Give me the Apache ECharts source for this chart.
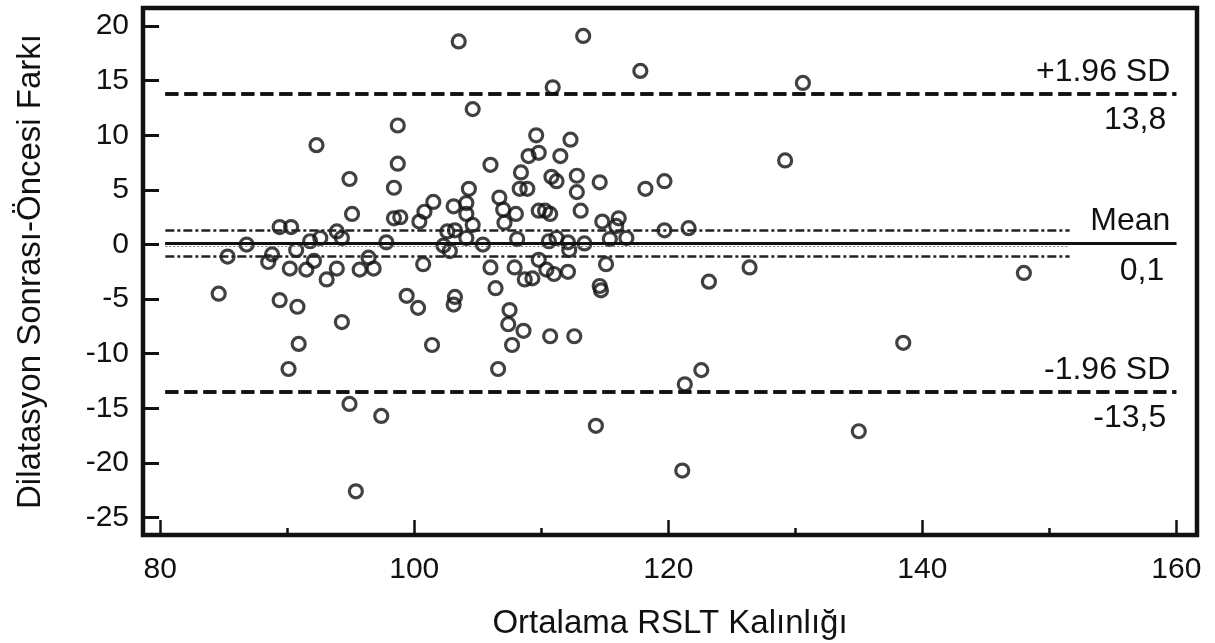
<!DOCTYPE html>
<html>
<head>
<meta charset="utf-8">
<script src="https://cdn.jsdelivr.net/npm/echarts@6/dist/echarts.min.js"></script>
<style>
html,body{margin:0;padding:0;background:#fff;}
#chart{width:1215px;height:643px;}
</style>
</head>
<body>
<div id="chart"></div>
<script>
// Mean thickness (x) and post-pre difference (y) for each eye
const avgThickness = [
  103.5,113.3,117.8,130.6,110.9,104.6,92.3,98.7,109.6,112.3,129.2,98.7,94.9,98.4,95.1,101.5,100.8,100.4,103.1,98.4,
  98.9,89.4,90.3,93.9,94.3,92.6,91.8,97.8,86.8,102.6,103.2,102.3,
  109.8,109.0,111.5,106.0,108.4,110.8,111.2,112.8,114.6,119.7,118.2,108.3,108.9,104.3,112.8,106.7,104.1,107.0,
  108.0,109.8,110.3,110.7,113.1,104.1,107.1,104.6,114.8,116.1,115.9,119.7,121.6,104.1,108.1,105.4,110.6,111.2,112.1,113.4,
  115.4,116.7,
  85.3,84.6,88.8,88.5,90.7,90.2,91.5,92.1,93.1,93.9,95.7,96.4,96.8,100.7,89.4,90.8,94.3,90.9,90.1,99.4,
  100.3,101.4,103.2,103.1,102.8,112.2,106.0,107.9,109.8,110.4,111.0,112.1,108.7,109.3,115.1,106.4,114.6,114.7,107.5,107.4,
  108.6,107.7,110.7,112.6,106.6,122.6,123.2,126.4,148.0,138.5,135.0,114.3,121.3,121.1,97.4,94.9,95.4
];
const difference = [
  18.6,19.1,15.9,14.8,14.4,12.4,9.1,10.9,10.0,9.6,7.7,7.4,6.0,5.2,2.8,3.9,3.0,2.1,3.5,2.4,
  2.5,1.6,1.6,1.2,0.6,0.6,0.3,0.2,0.0,1.2,1.3,-0.1,
  8.4,8.1,8.1,7.3,6.6,6.2,5.8,6.3,5.7,5.8,5.1,5.1,5.1,5.1,4.8,4.3,3.8,3.2,
  2.8,3.1,3.1,2.8,3.1,2.8,2.0,1.8,2.1,2.4,1.7,1.3,1.5,0.6,0.5,0.0,0.3,0.6,0.2,0.1,
  0.5,0.6,
  -1.1,-4.5,-0.9,-1.6,-0.5,-2.2,-2.3,-1.5,-3.2,-2.2,-2.3,-1.2,-2.2,-1.8,-5.1,-5.7,-7.1,-9.1,-11.4,-4.7,
  -5.8,-9.2,-4.8,-5.5,-0.6,-0.5,-2.1,-2.1,-1.4,-2.3,-2.7,-2.5,-3.2,-3.1,-1.8,-4.0,-3.8,-4.2,-6.0,-7.3,
  -7.9,-9.2,-8.4,-8.4,-11.4,-11.5,-3.4,-2.1,-2.6,-9.0,-17.1,-16.6,-12.8,-20.7,-15.7,-14.6,-22.6
];

// Bland-Altman summary values
const meanDiff = 0.1;
const upperLoA = 13.8;
const lowerLoA = -13.5;
const ciUpper = 1.3;
const ciLower = -1.1;
const lineStartX = 80.4;
const lineEndX = 160;
const ciEndX = 151.6;

// Axis ranges and tick labels
const xRange = [78.64, 161.63];
const yRange = [-26.6, 21.66];
const xMajorTicks = [80, 100, 120, 140, 160];
const xMinorTicks = [90, 110, 130, 150];
const yTicks = [-25, -20, -15, -10, -5, 0, 5, 10, 15, 20];

const labelUpper = '+1.96 SD', labelUpperVal = '13,8';
const labelMean = 'Mean', labelMeanVal = '0,1';
const labelLower = '-1.96 SD', labelLowerVal = '-13,5';
const xTitle = 'Ortalama RSLT Kalınlığı';
const yTitle = 'Dilatasyon Sonrası-Öncesi Farkı';

const FONT = '"Liberation Sans", Arial, sans-serif';
const points = avgThickness.map((x, i) => [x, difference[i]]);

function hline(y, x1, x2, style, label) {
  const d = [{coord: [x1, y]}, {coord: [x2, y]}];
  d[0].lineStyle = style;
  d[0].label = label || {show: false};
  return d;
}
function lbl(text, pos, dist) {
  return {show: true, formatter: text, position: pos, distance: dist,
          fontSize: 32, fontFamily: FONT, color: '#111'};
}

const dashed = {type: [13, 6], width: 3.5, color: '#111'};
const solid = {type: 'solid', width: 3, color: '#111'};
const dashDot = {type: [9, 3, 3, 3], width: 2.5, color: '#222'};
const dotted = {type: [2, 2], width: 1, color: '#777'};

const chart = echarts.init(document.getElementById('chart'), null, {renderer: 'canvas'});
chart.setOption({
  animation: false,
  backgroundColor: '#fff',
  grid: {left: 143, right: 18, top: 8, bottom: 108, show: true, containLabel: false,
         outerBoundsMode: 'none',
         borderColor: '#111', borderWidth: 4.5, backgroundColor: 'transparent'},
  xAxis: [{
    type: 'value', min: xRange[0], max: xRange[1], position: 'bottom',
    axisLine: {show: false, onZero: false}, splitLine: {show: false},
    axisTick: {show: true, inside: true, length: 15, customValues: xMajorTicks,
               lineStyle: {color: '#111', width: 2.5}},
    axisLabel: {customValues: xMajorTicks, fontSize: 30, fontFamily: FONT, color: '#111', margin: 20},
    name: xTitle, nameLocation: 'middle', nameGap: 72,
    nameTextStyle: {fontSize: 33, fontFamily: FONT, color: '#111'}
  }, {
    type: 'value', min: xRange[0], max: xRange[1], position: 'bottom',
    axisLine: {show: false, onZero: false}, splitLine: {show: false},
    axisTick: {show: true, inside: true, length: 7, customValues: xMinorTicks,
               lineStyle: {color: '#111', width: 2.5}},
    axisLabel: {show: false}
  }],
  yAxis: {
    type: 'value', min: yRange[0], max: yRange[1],
    axisLine: {show: false, onZero: false}, splitLine: {show: false},
    axisTick: {show: true, inside: true, length: 16, customValues: yTicks,
               lineStyle: {color: '#111', width: 3}},
    axisLabel: {customValues: yTicks, fontSize: 30, fontFamily: FONT, color: '#111', margin: 14},
    name: yTitle, nameLocation: 'middle', nameGap: 96, nameRotate: 90,
    nameTextStyle: {fontSize: 33, fontFamily: FONT, color: '#111'}
  },
  series: [{
    type: 'scatter',
    data: points,
    symbol: 'circle',
    symbolSize: 13,
    itemStyle: {color: 'rgba(0,0,0,0)', borderColor: '#111', borderWidth: 3.2},
    emphasis: {disabled: true},
    z: 3,
    markLine: {
      silent: true, symbol: ['none', 'none'], animation: false,
      data: [
        hline(upperLoA, lineStartX, lineEndX, dashed, lbl(labelUpper, 'insideEndTop', 6)),
        hline(upperLoA, lineStartX, lineEndX, dashed, lbl(labelUpperVal, 'insideEndBottom', 10)),
        hline(lowerLoA, lineStartX, lineEndX, dashed, lbl(labelLower, 'insideEndTop', 6)),
        hline(lowerLoA, lineStartX, lineEndX, dashed, lbl(labelLowerVal, 'insideEndBottom', 10)),
        hline(meanDiff - 0.3, lineStartX, ciEndX, dotted),
        hline(meanDiff, lineStartX, lineEndX, solid, lbl(labelMean, 'insideEndTop', 6)),
        hline(meanDiff, lineStartX, lineEndX, solid, lbl(labelMeanVal, 'insideEndBottom', 12)),
        hline(ciUpper, lineStartX, ciEndX, dashDot),
        hline(ciLower, lineStartX, ciEndX, dashDot)
      ]
    }
  }]
});
</script>
</body>
</html>
